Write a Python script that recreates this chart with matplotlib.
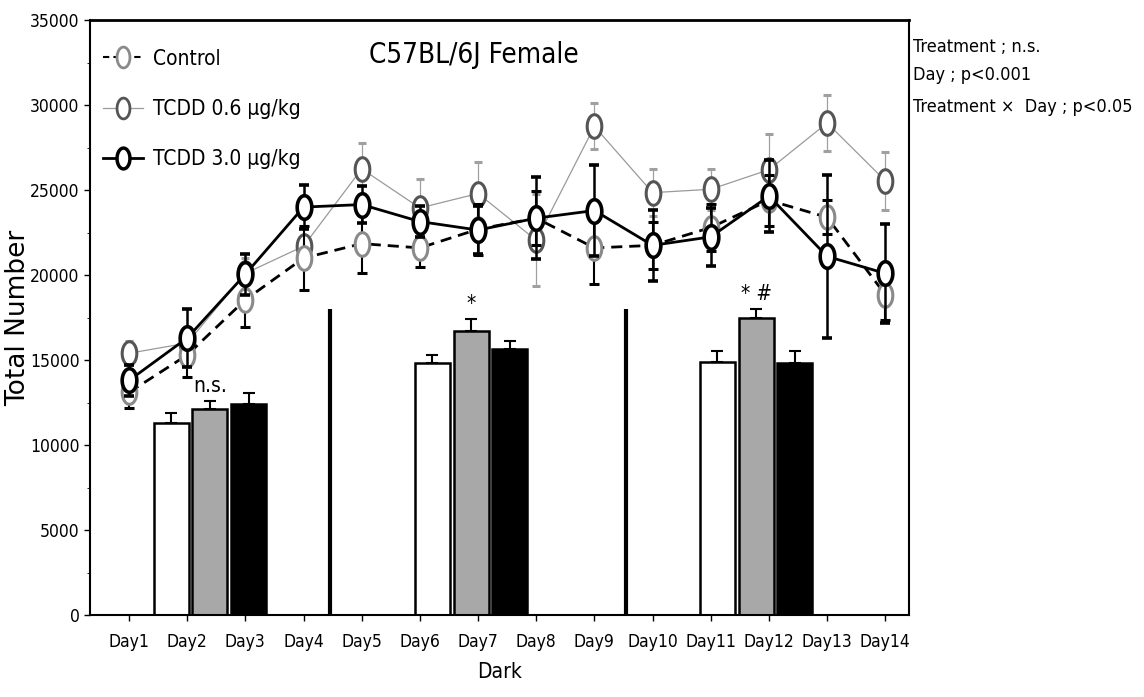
import numpy as np
import matplotlib
matplotlib.use("Agg")
from matplotlib import pyplot as plt
from matplotlib.path import Path
from matplotlib.lines import Line2D

plt.rcParams['font.family'] = ['DejaVu Sans']
plt.rcParams['font.stretch'] = 'condensed'

days = ['Day1', 'Day2', 'Day3', 'Day4', 'Day5', 'Day6', 'Day7',
        'Day8', 'Day9', 'Day10', 'Day11', 'Day12', 'Day13', 'Day14']

control = [13100, 15300, 18550, 21000, 21850, 21600, 22700, 23350, 21600, 21750, 22800, 24400, 23400, 18850]
control_err = [900, 1300, 1600, 1900, 1700, 1100, 1500, 1600, 2100, 1400, 1400, 1500, 1000, 1500]
tcdd06 = [15400, 16000, 20100, 21700, 26250, 23950, 24800, 22050, 28750, 24850, 25050, 26200, 28950, 25550]
tcdd06_err = [700, 800, 900, 1200, 1500, 1700, 1850, 2700, 1350, 1400, 1200, 2100, 1650, 1700]
tcdd30 = [13800, 16300, 20050, 24000, 24150, 23150, 22650, 23350, 23800, 21750, 22250, 24650, 21100, 20100]
tcdd30_err = [900, 1700, 1200, 1300, 1100, 900, 1400, 2400, 2700, 2100, 1700, 2100, 4800, 2900]

# bar inset (three blocks)
bar_white = [11300, 14800, 14900]
bar_white_err = [600, 500, 650]
bar_gray = [12100, 16700, 17500]
bar_gray_err = [500, 700, 500]
bar_black = [12400, 15650, 14800]
bar_black_err = [650, 450, 750]
bar_marks = ['n.s.', '*', '* #']

fig = plt.figure(figsize=(11.44, 6.97), dpi=100)
ax = fig.add_axes([0.0787, 0.1176, 0.716, 0.8535])

x = np.arange(1, 15)

# bars, error bars upward only
centers = np.array([2.39, 6.88, 11.78])
off = 0.665
w = 0.6
ekw = dict(ecolor='black', capsize=4, elinewidth=1.5, capthick=1.5)
for vals, errs, col, dx in [(bar_white, bar_white_err, 'white', -off),
                            (bar_gray, bar_gray_err, '#a8a8a8', 0),
                            (bar_black, bar_black_err, 'black', off)]:
    ax.bar(centers + dx, vals, w, yerr=[np.zeros(3), errs], color=col, edgecolor='black',
           linewidth=1.8, error_kw=ekw, zorder=2)
tops = np.array(bar_gray) + np.array(bar_gray_err)
for c, t, m in zip(centers, tops, bar_marks):
    ax.text(c, t + 300, m, ha='center', va='bottom', fontsize=15)

# separators between blocks
for sx in [4.46, 9.55]:
    ax.vlines(sx, 0, 18000, color='black', linewidth=3, zorder=2)

# tall elliptic open marker
t = np.linspace(0, 2 * np.pi, 40)
ell = Path(np.column_stack([0.62 * np.cos(t), np.sin(t)]), closed=True)

ax.errorbar(x, tcdd06, yerr=tcdd06_err, color='#9a9a9a', linewidth=0.9, marker=ell,
            markersize=17, mfc='white', mec='#555555', mew=2.2, ecolor='#a0a0a0',
            elinewidth=0.9, capsize=3, zorder=3)
ax.errorbar(x, control, yerr=control_err, color='black', linestyle='--', linewidth=2,
            dashes=(4, 2.5), marker=ell, markersize=17, mfc='white', mec='#8a8a8a',
            mew=2.2, ecolor='black', elinewidth=1.5, capsize=3.5, zorder=4)
ax.errorbar(x, tcdd30, yerr=tcdd30_err, color='black', linewidth=2, marker=ell,
            markersize=17, mfc='white', mec='black', mew=2.6, ecolor='black',
            elinewidth=1.8, capsize=3.5, capthick=1.8, zorder=5)

ax.set_xlim(0.33, 14.41)
ax.set_ylim(0, 35000)
ax.set_xticks(x)
ax.set_xticklabels(days, fontsize=12.5)
ax.set_yticks(np.arange(0, 35001, 5000))
ax.set_yticks(np.arange(0, 35001, 2500), minor=True)
ax.tick_params(axis='y', labelsize=12.5, length=4, width=1)
ax.tick_params(axis='y', which='minor', length=2)
ax.tick_params(axis='x', length=4, width=1, pad=9)
for s in ax.spines.values():
    s.set_linewidth(1.5)
ax.spines['top'].set_linewidth(2)

ax.set_xlabel('Dark', fontsize=15, labelpad=8)
ax.set_ylabel('Total Number', fontsize=19, fontstretch='normal')
ax.yaxis.set_label_coords(-0.072, 0.5)

ax.text(0.469, 0.965, 'C57BL/6J Female', transform=ax.transAxes, fontsize=20,
        ha='center', va='top')

handles = [
    Line2D([], [], color='black', linestyle='--', dashes=(3, 2), linewidth=1.5, marker=ell,
           markersize=15, mfc='white', mec='#8a8a8a', mew=2),
    Line2D([], [], color='#9a9a9a', linewidth=0.9, marker=ell, markersize=15,
           mfc='white', mec='#555555', mew=2),
    Line2D([], [], color='black', linewidth=2, marker=ell, markersize=15,
           mfc='white', mec='black', mew=2.5),
]
ax.legend(handles, ['Control', 'TCDD 0.6 μg/kg', 'TCDD 3.0 μg/kg'], loc='upper left',
          bbox_to_anchor=(0.006, 0.966), frameon=False, fontsize=15, handlelength=1.9,
          labelspacing=1.45, borderaxespad=0, handletextpad=0.5)

fig.text(0.798, 0.933, 'Treatment ; n.s.', fontsize=13, va='center')
fig.text(0.798, 0.892, 'Day ; p<0.001', fontsize=13, va='center')
fig.text(0.798, 0.846, 'Treatment ×  Day ; p<0.05', fontsize=13, va='center')

fig.savefig('out.png', dpi=100)
